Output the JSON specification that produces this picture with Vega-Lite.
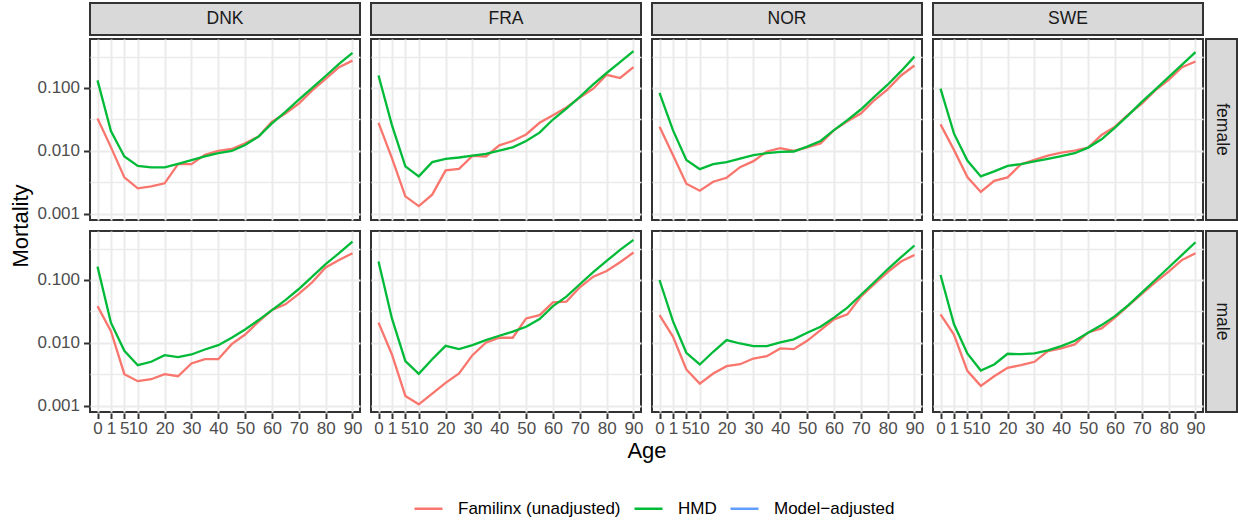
{
  "$schema": "https://vega.github.io/schema/vega-lite/v6.json",
  "padding": {"left": 9, "top": 0, "right": 0, "bottom": 0},
  "background": "white",
  "datasets": {
    "mort": [
      {"country":"DNK","sex":"female","age":0,"Familinx (unadjusted)":0.0328,"HMD":0.132},
      {"country":"DNK","sex":"female","age":1,"Familinx (unadjusted)":0.0115,"HMD":0.0207},
      {"country":"DNK","sex":"female","age":5,"Familinx (unadjusted)":0.0038,"HMD":0.00817},
      {"country":"DNK","sex":"female","age":10,"Familinx (unadjusted)":0.00255,"HMD":0.0058},
      {"country":"DNK","sex":"female","age":15,"Familinx (unadjusted)":0.00274,"HMD":0.00547},
      {"country":"DNK","sex":"female","age":20,"Familinx (unadjusted)":0.00306,"HMD":0.00547},
      {"country":"DNK","sex":"female","age":25,"Familinx (unadjusted)":0.00617,"HMD":0.00624},
      {"country":"DNK","sex":"female","age":30,"Familinx (unadjusted)":0.00617,"HMD":0.00713},
      {"country":"DNK","sex":"female","age":35,"Familinx (unadjusted)":0.00865,"HMD":0.00817},
      {"country":"DNK","sex":"female","age":40,"Familinx (unadjusted)":0.0100,"HMD":0.0092},
      {"country":"DNK","sex":"female","age":45,"Familinx (unadjusted)":0.01076,"HMD":0.0100},
      {"country":"DNK","sex":"female","age":50,"Familinx (unadjusted)":0.0132,"HMD":0.01245},
      {"country":"DNK","sex":"female","age":55,"Familinx (unadjusted)":0.0169,"HMD":0.01687},
      {"country":"DNK","sex":"female","age":60,"Familinx (unadjusted)":0.0291,"HMD":0.0274},
      {"country":"DNK","sex":"female","age":65,"Familinx (unadjusted)":0.0394,"HMD":0.0418},
      {"country":"DNK","sex":"female","age":70,"Familinx (unadjusted)":0.0565,"HMD":0.0653},
      {"country":"DNK","sex":"female","age":75,"Familinx (unadjusted)":0.0917,"HMD":0.100},
      {"country":"DNK","sex":"female","age":80,"Familinx (unadjusted)":0.140,"HMD":0.155},
      {"country":"DNK","sex":"female","age":85,"Familinx (unadjusted)":0.214,"HMD":0.241},
      {"country":"DNK","sex":"female","age":90,"Familinx (unadjusted)":0.272,"HMD":0.36},
      {"country":"FRA","sex":"female","age":0,"Familinx (unadjusted)":0.028,"HMD":0.158},
      {"country":"FRA","sex":"female","age":1,"Familinx (unadjusted)":0.00767,"HMD":0.0257},
      {"country":"FRA","sex":"female","age":5,"Familinx (unadjusted)":0.0019,"HMD":0.00568},
      {"country":"FRA","sex":"female","age":10,"Familinx (unadjusted)":0.00133,"HMD":0.00394},
      {"country":"FRA","sex":"female","age":15,"Familinx (unadjusted)":0.00202,"HMD":0.00664},
      {"country":"FRA","sex":"female","age":20,"Familinx (unadjusted)":0.00491,"HMD":0.00748},
      {"country":"FRA","sex":"female","age":25,"Familinx (unadjusted)":0.0052,"HMD":0.00787},
      {"country":"FRA","sex":"female","age":30,"Familinx (unadjusted)":0.00834,"HMD":0.00846},
      {"country":"FRA","sex":"female","age":35,"Familinx (unadjusted)":0.00817,"HMD":0.00897},
      {"country":"FRA","sex":"female","age":40,"Familinx (unadjusted)":0.0123,"HMD":0.01014},
      {"country":"FRA","sex":"female","age":45,"Familinx (unadjusted)":0.0144,"HMD":0.01143},
      {"country":"FRA","sex":"female","age":50,"Familinx (unadjusted)":0.0183,"HMD":0.01438},
      {"country":"FRA","sex":"female","age":55,"Familinx (unadjusted)":0.028,"HMD":0.0195},
      {"country":"FRA","sex":"female","age":60,"Familinx (unadjusted)":0.037,"HMD":0.0316},
      {"country":"FRA","sex":"female","age":65,"Familinx (unadjusted)":0.0489,"HMD":0.0471},
      {"country":"FRA","sex":"female","age":70,"Familinx (unadjusted)":0.0703,"HMD":0.0721},
      {"country":"FRA","sex":"female","age":75,"Familinx (unadjusted)":0.0975,"HMD":0.114},
      {"country":"FRA","sex":"female","age":80,"Familinx (unadjusted)":0.162,"HMD":0.173},
      {"country":"FRA","sex":"female","age":85,"Familinx (unadjusted)":0.144,"HMD":0.257},
      {"country":"FRA","sex":"female","age":90,"Familinx (unadjusted)":0.214,"HMD":0.384},
      {"country":"NOR","sex":"female","age":0,"Familinx (unadjusted)":0.0243,"HMD":0.0834},
      {"country":"NOR","sex":"female","age":1,"Familinx (unadjusted)":0.00865,"HMD":0.0214},
      {"country":"NOR","sex":"female","age":5,"Familinx (unadjusted)":0.00302,"HMD":0.00721},
      {"country":"NOR","sex":"female","age":10,"Familinx (unadjusted)":0.00234,"HMD":0.00514},
      {"country":"NOR","sex":"female","age":15,"Familinx (unadjusted)":0.00324,"HMD":0.00617},
      {"country":"NOR","sex":"female","age":20,"Familinx (unadjusted)":0.00375,"HMD":0.00663},
      {"country":"NOR","sex":"female","age":25,"Familinx (unadjusted)":0.00553,"HMD":0.00758},
      {"country":"NOR","sex":"female","age":30,"Familinx (unadjusted)":0.00689,"HMD":0.00855},
      {"country":"NOR","sex":"female","age":35,"Familinx (unadjusted)":0.0098,"HMD":0.0092},
      {"country":"NOR","sex":"female","age":40,"Familinx (unadjusted)":0.0111,"HMD":0.00964},
      {"country":"NOR","sex":"female","age":45,"Familinx (unadjusted)":0.0100,"HMD":0.0098},
      {"country":"NOR","sex":"female","age":50,"Familinx (unadjusted)":0.01143,"HMD":0.0117},
      {"country":"NOR","sex":"female","age":55,"Familinx (unadjusted)":0.0132,"HMD":0.0144},
      {"country":"NOR","sex":"female","age":60,"Familinx (unadjusted)":0.0214,"HMD":0.0214},
      {"country":"NOR","sex":"female","age":65,"Familinx (unadjusted)":0.0297,"HMD":0.0308},
      {"country":"NOR","sex":"female","age":70,"Familinx (unadjusted)":0.0394,"HMD":0.0455},
      {"country":"NOR","sex":"female","age":75,"Familinx (unadjusted)":0.0638,"HMD":0.0721},
      {"country":"NOR","sex":"female","age":80,"Familinx (unadjusted)":0.095,"HMD":0.1127},
      {"country":"NOR","sex":"female","age":85,"Familinx (unadjusted)":0.158,"HMD":0.185},
      {"country":"NOR","sex":"female","age":90,"Familinx (unadjusted)":0.228,"HMD":0.315},
      {"country":"SWE","sex":"female","age":0,"Familinx (unadjusted)":0.0264,"HMD":0.0975},
      {"country":"SWE","sex":"female","age":1,"Familinx (unadjusted)":0.0104,"HMD":0.019},
      {"country":"SWE","sex":"female","age":5,"Familinx (unadjusted)":0.00385,"HMD":0.00705},
      {"country":"SWE","sex":"female","age":10,"Familinx (unadjusted)":0.00223,"HMD":0.00394},
      {"country":"SWE","sex":"female","age":15,"Familinx (unadjusted)":0.00336,"HMD":0.00473},
      {"country":"SWE","sex":"female","age":20,"Familinx (unadjusted)":0.0038,"HMD":0.0058},
      {"country":"SWE","sex":"female","age":25,"Familinx (unadjusted)":0.00617,"HMD":0.00617},
      {"country":"SWE","sex":"female","age":30,"Familinx (unadjusted)":0.00721,"HMD":0.0068},
      {"country":"SWE","sex":"female","age":35,"Familinx (unadjusted)":0.00845,"HMD":0.00748},
      {"country":"SWE","sex":"female","age":40,"Familinx (unadjusted)":0.0094,"HMD":0.00825},
      {"country":"SWE","sex":"female","age":45,"Familinx (unadjusted)":0.0101,"HMD":0.0092},
      {"country":"SWE","sex":"female","age":50,"Familinx (unadjusted)":0.0113,"HMD":0.0113},
      {"country":"SWE","sex":"female","age":55,"Familinx (unadjusted)":0.0179,"HMD":0.0153},
      {"country":"SWE","sex":"female","age":60,"Familinx (unadjusted)":0.0243,"HMD":0.0234},
      {"country":"SWE","sex":"female","age":65,"Familinx (unadjusted)":0.038,"HMD":0.037},
      {"country":"SWE","sex":"female","age":70,"Familinx (unadjusted)":0.0565,"HMD":0.0601},
      {"country":"SWE","sex":"female","age":75,"Familinx (unadjusted)":0.0917,"HMD":0.094},
      {"country":"SWE","sex":"female","age":80,"Familinx (unadjusted)":0.135,"HMD":0.149},
      {"country":"SWE","sex":"female","age":85,"Familinx (unadjusted)":0.214,"HMD":0.235},
      {"country":"SWE","sex":"female","age":90,"Familinx (unadjusted)":0.263,"HMD":0.37},
      {"country":"DNK","sex":"male","age":0,"Familinx (unadjusted)":0.0385,"HMD":0.163},
      {"country":"DNK","sex":"male","age":1,"Familinx (unadjusted)":0.0154,"HMD":0.021},
      {"country":"DNK","sex":"male","age":5,"Familinx (unadjusted)":0.00319,"HMD":0.0075},
      {"country":"DNK","sex":"male","age":10,"Familinx (unadjusted)":0.00247,"HMD":0.00443},
      {"country":"DNK","sex":"male","age":15,"Familinx (unadjusted)":0.00265,"HMD":0.00502},
      {"country":"DNK","sex":"male","age":20,"Familinx (unadjusted)":0.00319,"HMD":0.0064},
      {"country":"DNK","sex":"male","age":25,"Familinx (unadjusted)":0.00296,"HMD":0.00595},
      {"country":"DNK","sex":"male","age":30,"Familinx (unadjusted)":0.00472,"HMD":0.00656},
      {"country":"DNK","sex":"male","age":35,"Familinx (unadjusted)":0.00552,"HMD":0.00787},
      {"country":"DNK","sex":"male","age":40,"Familinx (unadjusted)":0.00552,"HMD":0.00922},
      {"country":"DNK","sex":"male","age":45,"Familinx (unadjusted)":0.00957,"HMD":0.0121},
      {"country":"DNK","sex":"male","age":50,"Familinx (unadjusted)":0.0136,"HMD":0.0164},
      {"country":"DNK","sex":"male","age":55,"Familinx (unadjusted)":0.0218,"HMD":0.0231},
      {"country":"DNK","sex":"male","age":60,"Familinx (unadjusted)":0.0333,"HMD":0.0333},
      {"country":"DNK","sex":"male","age":65,"Familinx (unadjusted)":0.041,"HMD":0.048},
      {"country":"DNK","sex":"male","age":70,"Familinx (unadjusted)":0.060,"HMD":0.0719},
      {"country":"DNK","sex":"male","age":75,"Familinx (unadjusted)":0.092,"HMD":0.113},
      {"country":"DNK","sex":"male","age":80,"Familinx (unadjusted)":0.158,"HMD":0.178},
      {"country":"DNK","sex":"male","age":85,"Familinx (unadjusted)":0.208,"HMD":0.266},
      {"country":"DNK","sex":"male","age":90,"Familinx (unadjusted)":0.266,"HMD":0.408},
      {"country":"FRA","sex":"male","age":0,"Familinx (unadjusted)":0.021,"HMD":0.196},
      {"country":"FRA","sex":"male","age":1,"Familinx (unadjusted)":0.00656,"HMD":0.0245},
      {"country":"FRA","sex":"male","age":5,"Familinx (unadjusted)":0.00144,"HMD":0.00513},
      {"country":"FRA","sex":"male","age":10,"Familinx (unadjusted)":0.00106,"HMD":0.00323},
      {"country":"FRA","sex":"male","age":15,"Familinx (unadjusted)":0.00157,"HMD":0.00552},
      {"country":"FRA","sex":"male","age":20,"Familinx (unadjusted)":0.00232,"HMD":0.009},
      {"country":"FRA","sex":"male","age":25,"Familinx (unadjusted)":0.00327,"HMD":0.00796},
      {"country":"FRA","sex":"male","age":30,"Familinx (unadjusted)":0.0064,"HMD":0.00922},
      {"country":"FRA","sex":"male","age":35,"Familinx (unadjusted)":0.0101,"HMD":0.0111},
      {"country":"FRA","sex":"male","age":40,"Familinx (unadjusted)":0.0121,"HMD":0.013},
      {"country":"FRA","sex":"male","age":45,"Familinx (unadjusted)":0.0121,"HMD":0.0151},
      {"country":"FRA","sex":"male","age":50,"Familinx (unadjusted)":0.0245,"HMD":0.0181},
      {"country":"FRA","sex":"male","age":55,"Familinx (unadjusted)":0.0277,"HMD":0.0239},
      {"country":"FRA","sex":"male","age":60,"Familinx (unadjusted)":0.0441,"HMD":0.0385},
      {"country":"FRA","sex":"male","age":65,"Familinx (unadjusted)":0.0453,"HMD":0.0543},
      {"country":"FRA","sex":"male","age":70,"Familinx (unadjusted)":0.0766,"HMD":0.0855},
      {"country":"FRA","sex":"male","age":75,"Familinx (unadjusted)":0.113,"HMD":0.133},
      {"country":"FRA","sex":"male","age":80,"Familinx (unadjusted)":0.139,"HMD":0.201},
      {"country":"FRA","sex":"male","age":85,"Familinx (unadjusted)":0.191,"HMD":0.30},
      {"country":"FRA","sex":"male","age":90,"Familinx (unadjusted)":0.273,"HMD":0.434},
      {"country":"NOR","sex":"male","age":0,"Familinx (unadjusted)":0.0277,"HMD":0.100},
      {"country":"NOR","sex":"male","age":1,"Familinx (unadjusted)":0.0126,"HMD":0.0222},
      {"country":"NOR","sex":"male","age":5,"Familinx (unadjusted)":0.00379,"HMD":0.00698},
      {"country":"NOR","sex":"male","age":10,"Familinx (unadjusted)":0.00226,"HMD":0.00455},
      {"country":"NOR","sex":"male","age":15,"Familinx (unadjusted)":0.00327,"HMD":0.00724},
      {"country":"NOR","sex":"male","age":20,"Familinx (unadjusted)":0.00428,"HMD":0.0111},
      {"country":"NOR","sex":"male","age":25,"Familinx (unadjusted)":0.00459,"HMD":0.0098},
      {"country":"NOR","sex":"male","age":30,"Familinx (unadjusted)":0.00566,"HMD":0.0089},
      {"country":"NOR","sex":"male","age":35,"Familinx (unadjusted)":0.00616,"HMD":0.0089},
      {"country":"NOR","sex":"male","age":40,"Familinx (unadjusted)":0.00817,"HMD":0.0102},
      {"country":"NOR","sex":"male","age":45,"Familinx (unadjusted)":0.00796,"HMD":0.0114},
      {"country":"NOR","sex":"male","age":50,"Familinx (unadjusted)":0.0108,"HMD":0.0145},
      {"country":"NOR","sex":"male","age":55,"Familinx (unadjusted)":0.016,"HMD":0.0181},
      {"country":"NOR","sex":"male","age":60,"Familinx (unadjusted)":0.0237,"HMD":0.0252},
      {"country":"NOR","sex":"male","age":65,"Familinx (unadjusted)":0.0284,"HMD":0.0363},
      {"country":"NOR","sex":"male","age":70,"Familinx (unadjusted)":0.0543,"HMD":0.0577},
      {"country":"NOR","sex":"male","age":75,"Familinx (unadjusted)":0.0855,"HMD":0.092},
      {"country":"NOR","sex":"male","age":80,"Familinx (unadjusted)":0.133,"HMD":0.148},
      {"country":"NOR","sex":"male","age":85,"Familinx (unadjusted)":0.196,"HMD":0.23},
      {"country":"NOR","sex":"male","age":90,"Familinx (unadjusted)":0.25,"HMD":0.353},
      {"country":"SWE","sex":"male","age":0,"Familinx (unadjusted)":0.0284,"HMD":0.12},
      {"country":"SWE","sex":"male","age":1,"Familinx (unadjusted)":0.0136,"HMD":0.02},
      {"country":"SWE","sex":"male","age":5,"Familinx (unadjusted)":0.0036,"HMD":0.00681},
      {"country":"SWE","sex":"male","age":10,"Familinx (unadjusted)":0.00208,"HMD":0.00365},
      {"country":"SWE","sex":"male","age":15,"Familinx (unadjusted)":0.00296,"HMD":0.00455},
      {"country":"SWE","sex":"male","age":20,"Familinx (unadjusted)":0.00403,"HMD":0.00673},
      {"country":"SWE","sex":"male","age":25,"Familinx (unadjusted)":0.00443,"HMD":0.00663},
      {"country":"SWE","sex":"male","age":30,"Familinx (unadjusted)":0.00502,"HMD":0.00681},
      {"country":"SWE","sex":"male","age":35,"Familinx (unadjusted)":0.00741,"HMD":0.0076},
      {"country":"SWE","sex":"male","age":40,"Familinx (unadjusted)":0.00817,"HMD":0.0089},
      {"country":"SWE","sex":"male","age":45,"Familinx (unadjusted)":0.00946,"HMD":0.0108},
      {"country":"SWE","sex":"male","age":50,"Familinx (unadjusted)":0.0147,"HMD":0.0145},
      {"country":"SWE","sex":"male","age":55,"Familinx (unadjusted)":0.017,"HMD":0.0192},
      {"country":"SWE","sex":"male","age":60,"Familinx (unadjusted)":0.0252,"HMD":0.0267},
      {"country":"SWE","sex":"male","age":65,"Familinx (unadjusted)":0.0391,"HMD":0.040},
      {"country":"SWE","sex":"male","age":70,"Familinx (unadjusted)":0.060,"HMD":0.063},
      {"country":"SWE","sex":"male","age":75,"Familinx (unadjusted)":0.092,"HMD":0.100},
      {"country":"SWE","sex":"male","age":80,"Familinx (unadjusted)":0.136,"HMD":0.158},
      {"country":"SWE","sex":"male","age":85,"Familinx (unadjusted)":0.208,"HMD":0.25},
      {"country":"SWE","sex":"male","age":90,"Familinx (unadjusted)":0.266,"HMD":0.398}
    ],
    "sexes": [{"sex":"female"},{"sex":"male"}]
  },
  "config": {
    "font": "Liberation Sans",
    "view": {"stroke": "#333333", "strokeWidth": 2, "fill": "white"},
    "axis": {
      "domain": false,
      "gridColor": "#EBEBEB",
      "gridWidth": 2,
      "labelColor": "#4D4D4D",
      "labelFont": "Liberation Sans",
      "labelFontSize": 17,
      "tickColor": "#333333",
      "tickSize": 5.5,
      "tickWidth": 2,
      "titleFont": "Liberation Sans",
      "titleFontSize": 22,
      "titleFontWeight": "normal",
      "titleColor": "#000000"
    },
    "header": {
      "titleFont": "Liberation Sans",
      "titleFontSize": 22,
      "titleFontWeight": "normal",
      "titleColor": "#000000"
    },
    "legend": {
      "labelFont": "Liberation Sans",
      "labelFontSize": 17,
      "labelColor": "#000000",
      "labelLimit": 0
    }
  },
  "spacing": 0,
  "vconcat": [
    {
      "data": {"name": "mort"},
      "transform": [{"fold": ["Familinx (unadjusted)", "HMD"], "as": ["source", "mortality"]}],
      "facet": {"column": {"field": "country", "type": "nominal", "header": null}},
      "spacing": 9,
      "spec": {
        "width": 270,
        "height": 32,
        "view": {"fill": "#D9D9D9", "stroke": "#333333", "strokeWidth": 2},
        "layer": [
          {
            "mark": {"type": "point", "opacity": 0},
            "encoding": {
              "y": {
                "field": "mortality",
                "type": "quantitative",
                "scale": {"type": "log", "domain": [0.0008, 0.6], "nice": false},
                "axis": {
                  "title": "M",
                  "titleColor": "transparent",
                  "titlePadding": -7,
                  "values": [0.01],
                  "labelExpr": "format(datum.value, '.3f')",
                  "labelColor": "transparent",
                  "labelPadding": 4,
                  "tickColor": "transparent",
                  "grid": false
                }
              }
            }
          },
          {
            "transform": [{"aggregate": [{"op": "count", "as": "n"}], "groupby": ["country"]}],
            "mark": {"type": "text", "fontSize": 17.5, "color": "#1A1A1A", "align": "center", "baseline": "middle", "font": "Liberation Sans"},
            "encoding": {"text": {"field": "country", "type": "nominal"}}
          }
        ]
      }
    },
    {
      "spacing": 0,
      "hconcat": [
        {
          "data": {"name": "mort"},
          "transform": [{"fold": ["Familinx (unadjusted)", "HMD"], "as": ["source", "mortality"]}],
          "facet": {
            "row": {"field": "sex", "type": "nominal", "sort": ["female", "male"], "header": {"labels": false, "title": "Mortality", "titleOrient": "left", "titlePadding": -7}},
            "column": {"field": "country", "type": "nominal", "header": {"labels": false, "title": "Age", "titleOrient": "bottom", "titlePadding": -6}}
          },
          "spacing": 9,
          "spec": {
            "width": 270,
            "height": 181,
            "mark": {"type": "line", "strokeWidth": 2.3},
            "encoding": {
              "x": {
                "field": "age",
                "type": "ordinal",
                "scale": {"type": "point", "padding": 0.56},
                "axis": {
                  "title": null,
                  "values": [0, 1, 5, 10, 20, 30, 40, 50, 60, 70, 80, 90],
                  "labelAngle": 0,
                  "labelOverlap": false,
                  "labelPadding": 2,
                  "grid": true
                }
              },
              "y": {
                "field": "mortality",
                "type": "quantitative",
                "scale": {"type": "log", "domain": [0.0008, 0.6], "nice": false},
                "axis": {
                  "title": null,
                  "values": [0.001, 0.00316228, 0.01, 0.0316228, 0.1, 0.316228],
                  "labelOverlap": false,
                  "labelPadding": 4,
                  "labelExpr": "(datum.value < 0.002 || (datum.value > 0.009 && datum.value < 0.011) || (datum.value > 0.09 && datum.value < 0.11)) ? format(datum.value, '.3f') : ''",
                  "tickOpacity": {"condition": {"test": "datum.value < 0.002 || (datum.value > 0.009 && datum.value < 0.011) || (datum.value > 0.09 && datum.value < 0.11)", "value": 1}, "value": 0},
                  "gridWidth": {"condition": {"test": "datum.value < 0.002 || (datum.value > 0.009 && datum.value < 0.011) || (datum.value > 0.09 && datum.value < 0.11)", "value": 2}, "value": 1.3}
                }
              },
              "color": {
                "field": "source",
                "type": "nominal",
                "scale": {"domain": ["Familinx (unadjusted)", "HMD", "Model−adjusted"], "range": ["#F8766D", "#00BA38", "#619CFF"]},
                "legend": {
                  "title": null,
                  "orient": "none",
                  "legendX": 323,
                  "legendY": 490,
                  "direction": "horizontal",
                  "symbolType": "stroke",
                  "symbolSize": 784,
                  "symbolStrokeWidth": 2.5,
                  "labelOffset": 14,
                  "columnPadding": 8
                }
              }
            }
          }
        },
        {
          "data": {"name": "sexes"},
          "facet": {"row": {"field": "sex", "type": "nominal", "header": null}},
          "spacing": 9,
          "spec": {
            "width": 31,
            "height": 181,
            "view": {"fill": "#D9D9D9", "stroke": "#333333", "strokeWidth": 2},
            "mark": {"type": "text", "fontSize": 17.5, "color": "#1A1A1A", "align": "center", "baseline": "middle", "angle": 90, "font": "Liberation Sans"},
            "encoding": {"text": {"field": "sex", "type": "nominal"}}
          }
        }
      ]
    }
  ]
}
